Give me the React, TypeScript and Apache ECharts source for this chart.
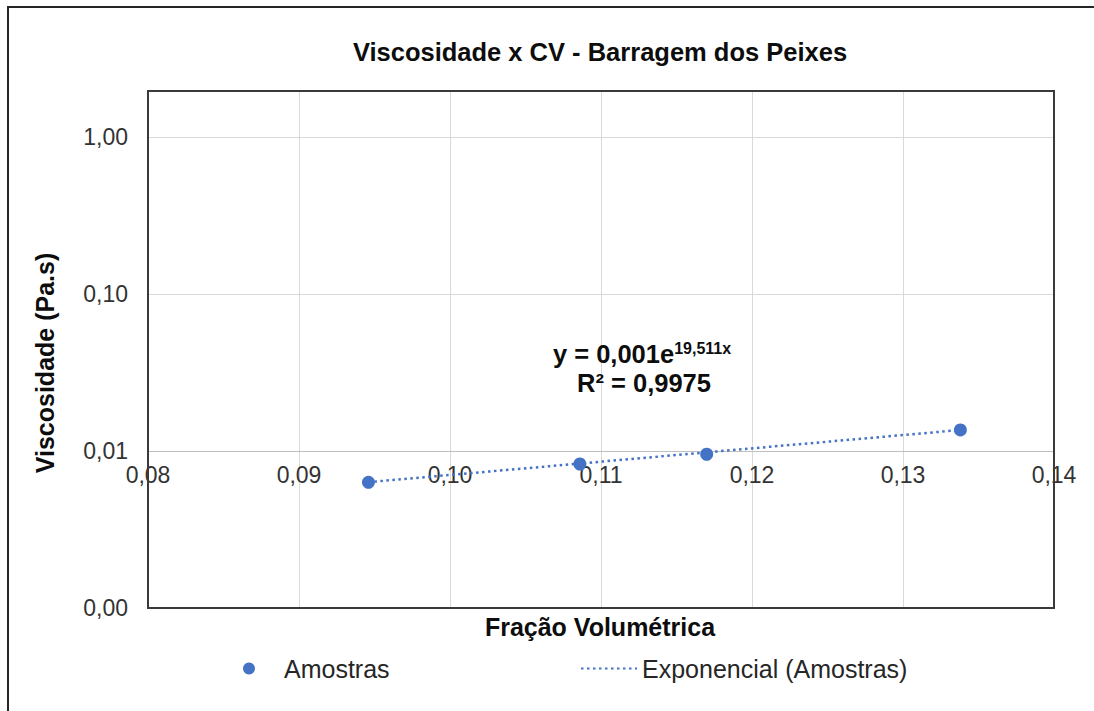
import React, { useEffect, useRef } from 'react';
import * as echarts from 'echarts';

const chartTitle = 'Viscosidade x CV - Barragem dos Peixes';
const xAxisTitle = 'Fração Volumétrica';
const yAxisTitle = 'Viscosidade (Pa.s)';
const seriesNames = ['Amostras', 'Exponencial (Amostras)'];

const sampleX = [0.0946, 0.1086, 0.117, 0.1338];
const sampleY = [0.00632, 0.00826, 0.00953, 0.01361];

const trendX = [0.0946, 0.1338];
const trendY = [0.00633, 0.0136];

const xMin = 0.08;
const xMax = 0.14;
const xStep = 0.01;
const yMin = 0.001;
const yMax = 1.96;

const equationMain = 'y = 0,001e';
const equationExp = '19,511x';
const r2Text = 'R² = 0,9975';

const FONT = '"Liberation Sans", Arial, Helvetica, sans-serif';
const BLUE = '#4472C4';

const fmt = (v: number) => v.toFixed(2).replace('.', ',');

export default function App() {
  const ref = useRef<HTMLDivElement>(null);

  useEffect(() => {
    document.body.style.margin = '0';
    if (!ref.current) return;
    const chart = echarts.init(ref.current, undefined, { renderer: 'svg' });

    const gridLeft = 148;
    const gridTop = 91;
    const gridW = 906;
    const gridH = 517;
    const decadePx = gridH / (Math.log10(yMax) - Math.log10(yMin));

    const option: any = {
      animation: false,
      backgroundColor: '#ffffff',
      grid: {
        left: gridLeft,
        top: gridTop,
        width: gridW,
        height: gridH,
        show: false,
        containLabel: false,
        outerBoundsMode: 'none',
      },
      xAxis: {
        type: 'value',
        min: xMin,
        max: xMax,
        interval: xStep,
        position: 'bottom',
        offset: -decadePx,
        axisLine: { show: true, onZero: false, lineStyle: { color: '#bfbfbf', width: 1 } },
        axisTick: { show: false },
        axisLabel: {
          formatter: (v: number) => fmt(v),
          fontSize: 23,
          color: '#333333',
          margin: 13,
          fontFamily: FONT,
        },
        splitLine: { show: true, lineStyle: { color: '#d9d9d9', width: 1 } },
      },
      yAxis: {
        type: 'log',
        logBase: 10,
        min: yMin,
        max: yMax,
        axisLine: { show: false },
        axisTick: { show: false },
        axisLabel: {
          formatter: (v: number) => {
            const l = Math.log10(v);
            return Math.abs(l - Math.round(l)) < 1e-6 ? fmt(v) : '';
          },
          fontSize: 23,
          color: '#333333',
          margin: 20,
          fontFamily: FONT,
        },
        splitLine: { show: true, lineStyle: { color: '#d9d9d9', width: 1 } },
      },
      legend: [
        {
          data: [{ name: seriesNames[0], icon: 'circle' }],
          left: 243,
          top: 656,
          padding: 0,
          itemWidth: 12,
          itemHeight: 12,
          selectedMode: false,
          itemStyle: { opacity: 1, color: BLUE },
          textStyle: { fontSize: 25, color: '#262626', fontFamily: FONT, padding: [0, 0, 0, 24] },
        },
        {
          data: [seriesNames[1]],
          left: 580,
          top: 656,
          padding: 0,
          itemWidth: 56,
          itemHeight: 12,
          selectedMode: false,
          itemStyle: { opacity: 0 },
          textStyle: { fontSize: 25, color: '#262626', fontFamily: FONT },
        },
      ],
      series: [
        {
          name: seriesNames[1],
          type: 'line',
          data: trendX.map((x, i) => [x, trendY[i]]),
          symbol: 'none',
          showSymbol: false,
          lineStyle: { color: BLUE, width: 2.5, type: [2.5, 3.5] },
          itemStyle: { color: BLUE },
          z: 2,
        },
        {
          name: seriesNames[0],
          type: 'scatter',
          data: sampleX.map((x, i) => [x, sampleY[i]]),
          symbol: 'circle',
          symbolSize: 13,
          itemStyle: { color: BLUE, opacity: 1 },
          z: 3,
        },
      ],
      graphic: [
        {
          type: 'rect',
          z: 50,
          silent: true,
          shape: { x: 8, y: 7, width: 1110, height: 730 },
          style: { fill: 'none', stroke: '#262626', lineWidth: 2 },
        },
        {
          type: 'rect',
          z: 50,
          silent: true,
          shape: { x: gridLeft, y: gridTop, width: gridW, height: gridH },
          style: { fill: 'none', stroke: '#3a3a3a', lineWidth: 2 },
        },
        {
          type: 'text',
          z: 50,
          x: 600,
          y: 52,
          style: {
            text: chartTitle,
            fontSize: 25.5,
            fontWeight: 'bold',
            fontFamily: FONT,
            fill: '#0d0d0d',
            align: 'center',
            textAlign: 'center',
            verticalAlign: 'middle',
            textVerticalAlign: 'middle',
          },
        },
        {
          type: 'text',
          z: 50,
          x: 600,
          y: 627,
          style: {
            text: xAxisTitle,
            fontSize: 25,
            fontWeight: 'bold',
            fontFamily: FONT,
            fill: '#0d0d0d',
            align: 'center',
            textAlign: 'center',
            verticalAlign: 'middle',
            textVerticalAlign: 'middle',
          },
        },
        {
          type: 'text',
          z: 50,
          x: 45,
          y: 363,
          rotation: Math.PI / 2,
          style: {
            text: yAxisTitle,
            fontSize: 25,
            fontWeight: 'bold',
            fontFamily: FONT,
            fill: '#0d0d0d',
            align: 'center',
            textAlign: 'center',
            verticalAlign: 'middle',
            textVerticalAlign: 'middle',
          },
        },
        {
          type: 'text',
          z: 50,
          x: 642,
          y: 354,
          style: {
            text: '{a|' + equationMain + '}{b|' + equationExp + '}',
            fontFamily: FONT,
            fill: '#0d0d0d',
            align: 'center',
            textAlign: 'center',
            verticalAlign: 'middle',
            textVerticalAlign: 'middle',
            rich: {
              a: { fontSize: 25.5, fontWeight: 'bold', fontFamily: FONT, fill: '#0d0d0d', lineHeight: 27 },
              b: { fontSize: 16, fontWeight: 'bold', fontFamily: FONT, fill: '#0d0d0d', lineHeight: 17, verticalAlign: 'top' },
            },
          },
        },
        {
          type: 'text',
          z: 50,
          x: 644,
          y: 383,
          style: {
            text: r2Text,
            fontSize: 25.5,
            fontWeight: 'bold',
            fontFamily: FONT,
            fill: '#0d0d0d',
            align: 'center',
            textAlign: 'center',
            verticalAlign: 'middle',
            textVerticalAlign: 'middle',
          },
        },
      ],
    };

    chart.setOption(option);
    return () => {
      chart.dispose();
    };
  }, []);

  return (
    <div
      ref={ref}
      style={{ position: 'fixed', left: 0, top: 0, width: 1094, height: 711, background: '#fff' }}
    />
  );
}
